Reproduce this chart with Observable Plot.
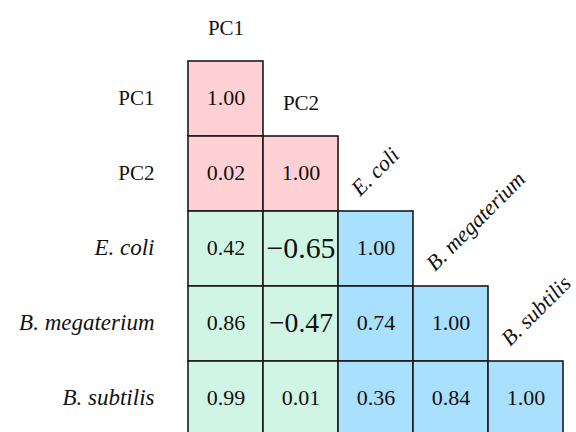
<!DOCTYPE html>
<html>
<head>
<meta charset="utf-8">
<script src="https://cdn.jsdelivr.net/npm/d3@7"></script>
<script src="https://cdn.jsdelivr.net/npm/@observablehq/plot@0.6"></script>
<style>
  html, body { margin: 0; padding: 0; background: white; }
</style>
</head>
<body>
<div id="chart"></div>
<script>
// Variable names (rows and columns of the correlation matrix)
const names = ["PC1", "PC2", "E. coli", "B. megaterium", "B. subtilis"];
const italicNames = ["E. coli", "B. megaterium", "B. subtilis"];
const pcNames = ["PC1", "PC2"];

// Lower-triangular correlation values, row by row
const row0 = [1.00];
const row1 = [0.02, 1.00];
const row2 = [0.42, -0.65, 1.00];
const row3 = [0.86, -0.47, 0.74, 1.00];
const row4 = [0.99, 0.01, 0.36, 0.84, 1.00];
const rows = [row0, row1, row2, row3, row4];

// Block categories and colours
const blocks = ["PC vs PC", "PC vs species", "species vs species"];
const blockColors = ["#ffd1d4", "#d0f5e4", "#a9e0fd"];

const cells = [];
rows.forEach((r, i) => r.forEach((v, j) => {
  const pcCount = (pcNames.includes(names[i]) ? 1 : 0) + (pcNames.includes(names[j]) ? 1 : 0);
  cells.push({
    row: names[i],
    col: names[j],
    value: v,
    block: pcCount === 2 ? blocks[0] : pcCount === 1 ? blocks[1] : blocks[2]
  });
}));

const fmt = d3.format(".2f");
const size = 75.8;
const x0 = 186, y0 = 59.3;
const serif = "Liberation Serif";

const colLabels = names.map((n, i) => ({name: n, above: i === 0 ? "" : names[i - 1]}));

const chart = Plot.plot({
  width: 576,
  height: 432,
  marginLeft: x0,
  marginRight: 11,
  marginTop: y0,
  marginBottom: 0,
  style: "background: white; color: #111;",
  x: {type: "band", domain: names, range: [x0, x0 + 5 * size], padding: 0, axis: null},
  y: {type: "band", domain: ["", ...names], range: [y0 - size, y0 + 5 * size], padding: 0, axis: null},
  color: {domain: blocks, range: blockColors},
  marks: [
    Plot.cell(cells, {x: "col", y: "row", fill: "block", stroke: "#1a1a1a", strokeWidth: 1.6, inset: 0}),
    Plot.text(cells, {
      x: "col", y: "row",
      text: d => fmt(d.value),
      dy: -1,
      fontSize: d => d.value < 0 ? 22 + 12 * Math.abs(d.value) : 22,
      fill: "#111"
    }),
    // row labels
    Plot.text(names.filter(n => pcNames.includes(n)), {
      y: d => d, text: d => d, frameAnchor: "left", textAnchor: "end", dx: -32, dy: -1,
      fontSize: 21, fill: "#111"
    }),
    Plot.text(names.filter(n => italicNames.includes(n)), {
      y: d => d, text: d => d, frameAnchor: "left", textAnchor: "end", dx: -32, dy: -1,
      fontSize: 23, fontStyle: "italic", fill: "#111"
    }),
    // column labels
    Plot.text(colLabels.filter(d => pcNames.includes(d.name)), {
      x: "name", y: "above", text: "name", dy: 4, fontSize: 21, fill: "#111"
    }),
    Plot.text(colLabels.filter(d => italicNames.includes(d.name)), {
      x: "name", y: "above", text: "name", dx: -16, dy: 23, rotate: -45,
      textAnchor: "start", lineAnchor: "bottom", fontSize: 22,
      fontStyle: "italic", fill: "#111"
    })
  ]
});

// Use the serif family on the SVG and every text element
d3.select(chart).attr("font-family", serif);
d3.select(chart).selectAll("g").filter(function() { return this.hasAttribute("font-family"); }).attr("font-family", serif);
d3.select(chart).selectAll("text").attr("font-family", serif);

document.getElementById("chart").appendChild(chart);
</script>
</body>
</html>
